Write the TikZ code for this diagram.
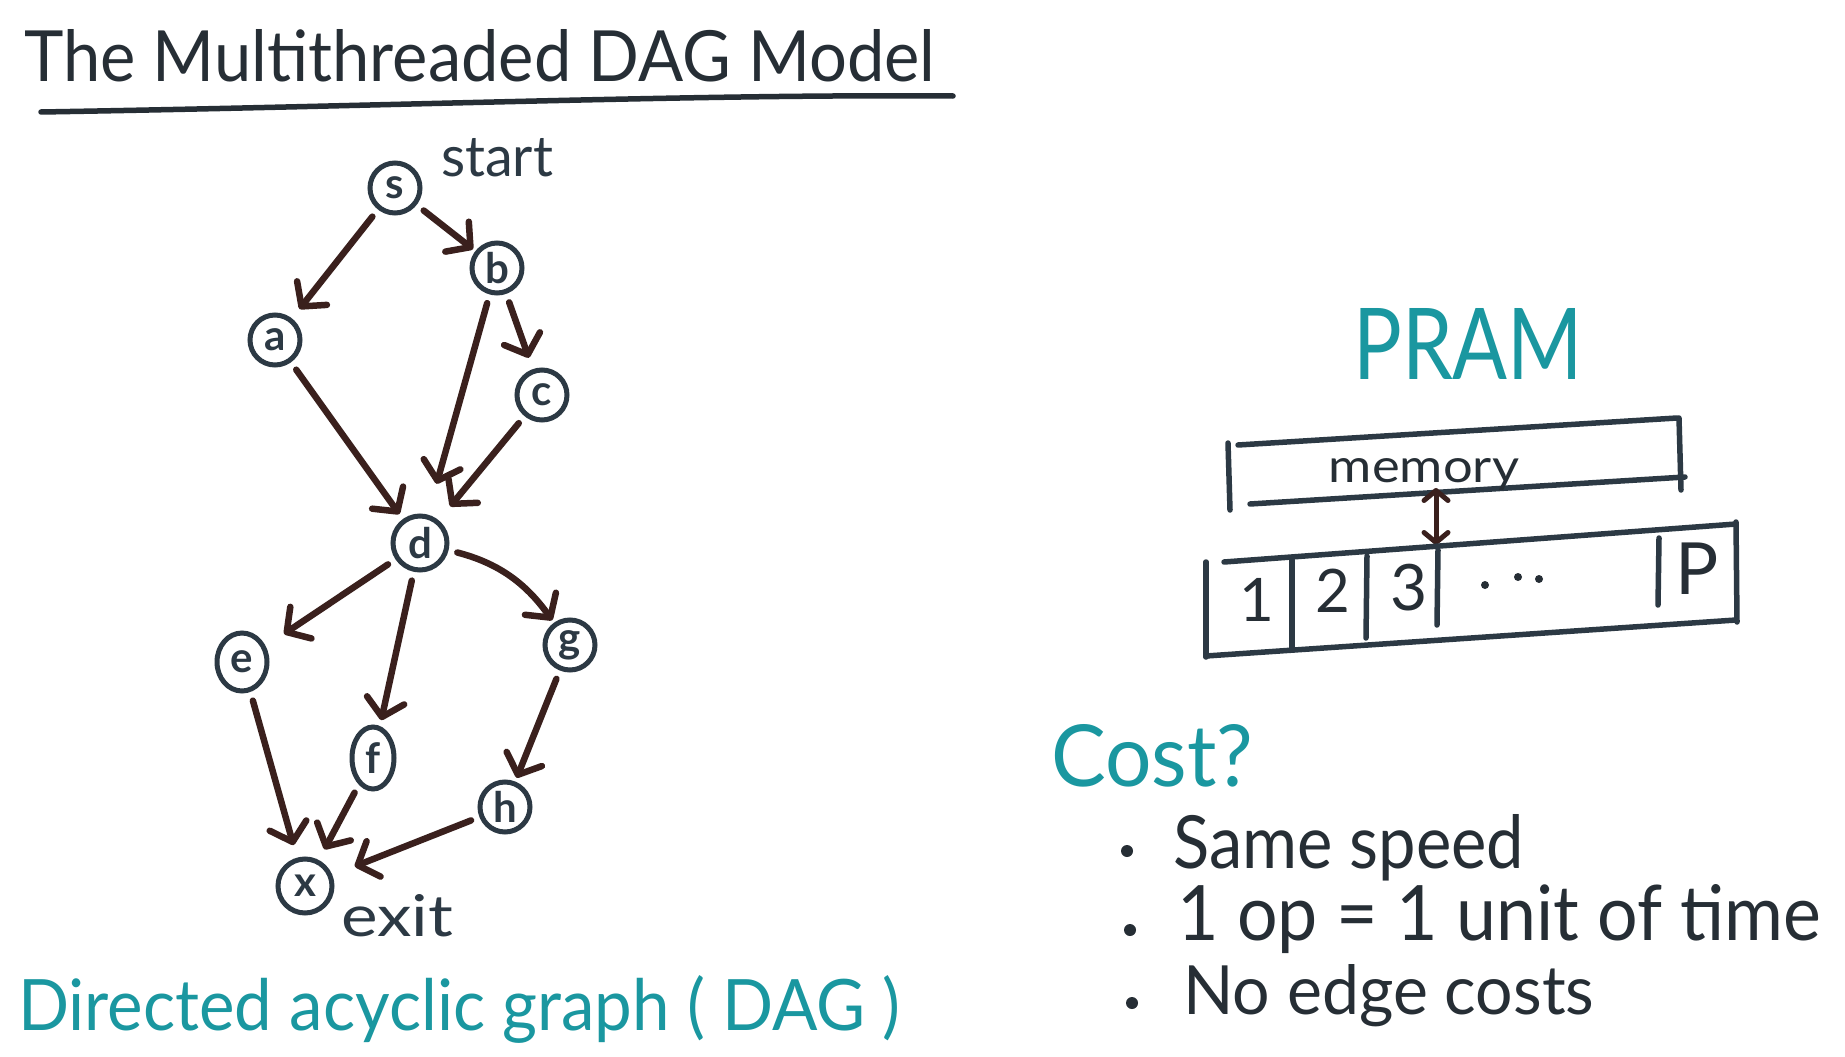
\documentclass[tikz,border=0pt]{standalone}
\usepackage{fontspec}
\setmainfont{Lato}
\usepackage{graphicx}
\usetikzlibrary{arrows.meta,shapes.geometric}
\definecolor{inkslate}{HTML}{2C3944}
\definecolor{inkbrown}{HTML}{3A201D}
\definecolor{inkteal}{HTML}{1A97A0}
\definecolor{inkdark}{HTML}{262E35}
\newcommand\fitbox[3]{\resizebox{#1pt}{#2pt}{#3}}
\begin{document}
\begin{tikzpicture}[x=1pt,y=-1pt,
  dagnode/.style={circle,draw=inkslate,line width=5pt,minimum size=50pt,inner sep=0pt,text=inkslate,font=\fontsize{42}{42}\selectfont\bfseries},
  dagedge/.style={draw=inkbrown,line width=6.5pt,line cap=round,line join=round,-{Straight Barb[length=17pt,width=38pt,round]},shorten <=9pt},
  txt/.style={inner sep=0pt,anchor=base west},
  inkline/.style={draw=inkslate,line width=5.5pt,line cap=round}]
\useasboundingbox[fill=white] (0,0) rectangle (1845,1057);

% title
\node[txt,text=inkdark] (title) at (24,82) {\fitbox{911}{52}{The Multithreaded DAG Model}};
\coordinate (ulA) at (41,112);
\coordinate (ulB) at (953,96);
\draw[line width=5.5pt,draw=inkdark,line cap=round] (ulA) .. controls (400,106) and (700,94) .. (ulB);

% DAG nodes
\node[dagnode] (s) at (395,188) {s};
\node[dagnode] (b) at (497,268) {b};
\node[dagnode] (a) at (275,340) {a};
\node[dagnode] (c) at (542,395) {c};
\node[dagnode,minimum size=54pt] (d) at (420,543) {d};
\node[dagnode,ellipse,minimum width=50pt,minimum height=58pt] (e) at (242,662) {e};
\node[dagnode,ellipse,minimum width=42pt,minimum height=62pt] (f) at (373,758) {f};
\node[dagnode] (g) at (570,645) {g};
\node[dagnode] (h) at (505,807) {h};
\node[dagnode,minimum size=54pt] (x) at (305,886) {x};

\node[txt,text=inkslate] (start) at (441,176) {\fitbox{112}{38}{start}};
\node[txt,text=inkslate] (exit) at (341,936) {\fitbox{112}{42}{exit}};

% DAG edges
\draw[dagedge,shorten >=12pt] (s) -- (a);
\draw[dagedge,shorten >=3pt] (s) -- (b);
\draw[dagedge,shorten >=12pt] (b) -- (c);
\draw[dagedge,shorten >=32pt] (b) -- (d);
\draw[dagedge,shorten >=6pt] (a) -- (d);
\draw[dagedge,shorten >=18pt] (c) -- (d);
\draw[dagedge,shorten >=22pt] (d) -- (e);
\draw[dagedge,shorten >=6pt] (d) -- (f);
\draw[dagedge,shorten >=3pt] (d) to[bend left=20] (g);
\draw[dagedge,shorten >=13pt] (e) -- (x);
\draw[dagedge,shorten >=12pt] (f) -- (x);
\draw[dagedge,shorten >=4pt] (g) -- (h);
\draw[dagedge,shorten >=24pt] (h) -- (x);

\node[txt,text=inkteal] (dagcap) at (18,1030) {\fitbox{882}{55}{Directed acyclic graph ( DAG )}};

% PRAM
\node[txt,text=inkteal] (pram) at (1353,379) {\fitbox{230}{71}{PRAM}};

% memory box
\draw[inkline] (1238,445) -- (1677,418);
\draw[inkline] (1679,418) -- (1681,490);
\draw[inkline] (1250,504) -- (1685,477);
\draw[inkline] (1228,443) -- (1230,510);
\node[inner sep=0pt,anchor=base,text=inkdark] (mem) at (1424,482) {\fitbox{190}{24}{memory}};

\coordinate (memb) at (1436,488);
\coordinate (proct) at (1436,545);
\draw[draw=inkbrown,line width=5pt,line cap=round,{Straight Barb[length=10pt,width=24pt,round]}-{Straight Barb[length=10pt,width=24pt,round]}] (memb) -- (proct);

% processor box
\draw[inkline] (1224,562) -- (1736,524);
\draw[inkline] (1206,562) -- (1206,657);
\draw[inkline] (1206,656) -- (1736,620);
\draw[inkline] (1736,522) -- (1737,622);
\draw[inkline] (1292,560) -- (1292,650);
\draw[inkline] (1367,556) -- (1366,638);
\draw[inkline] (1438,550) -- (1437,625);
\draw[inkline] (1659,538) -- (1658,605);

\node[inner sep=0pt,anchor=base,text=inkdark,font=\fontsize{60}{60}\selectfont] (p1) at (1257,621) {1};
\node[inner sep=0pt,anchor=base,text=inkdark,font=\fontsize{60}{60}\selectfont] (p2) at (1333,612) {2};
\node[inner sep=0pt,anchor=base,text=inkdark,font=\fontsize{64}{64}\selectfont] (p3) at (1409,610) {3};
\node[inner sep=0pt,anchor=base,text=inkdark,font=\fontsize{72}{72}\selectfont] (pp) at (1697,594) {P};
\fill[inkdark] (1485,585) circle (4pt) (1518,577) circle (4pt) (1539,579) circle (4pt);

% cost
\node[txt,text=inkteal] (cost) at (1051,786) {\fitbox{202}{62}{Cost?}};
\fill[inkdark] (1127,851) circle (6pt) (1130,930) circle (6pt) (1132,1003) circle (6pt);
\node[txt,text=inkdark] (b1) at (1173,868) {\fitbox{351}{54}{Same speed}};
\node[txt,text=inkdark] (b2) at (1177,940) {\fitbox{644}{56}{1 op = 1 unit of time}};
\node[txt,text=inkdark] (b3) at (1183,1014) {\fitbox{411}{50}{No edge costs}};
\end{tikzpicture}
\end{document}
